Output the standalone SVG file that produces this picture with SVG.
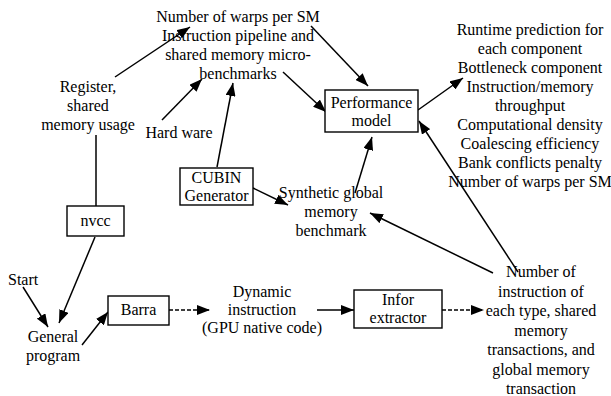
<svg xmlns="http://www.w3.org/2000/svg" width="611" height="396" viewBox="0 0 611 396" font-family="Liberation Serif, Times New Roman, serif" font-size="16">
<defs>
<style>
text{font-family:'Liberation Serif',serif;font-size:16px;fill:#000;text-anchor:middle}
.box{fill:#fff;stroke:#000;stroke-width:1.4}
.c{fill:none;stroke:#000;stroke-width:1.5;marker-end:url(#ah)}
.n{fill:none;stroke:#000;stroke-width:1.5}
.d{stroke-dasharray:4 2}
</style>
<marker id="ah" viewBox="0 0 13 10" refX="13" refY="5" markerWidth="13" markerHeight="10" orient="auto" markerUnits="userSpaceOnUse"><path d="M0,0 L13,5 L0,10 z" fill="#000"/></marker>
</defs>
<rect width="611" height="396" fill="#fff"/>
<g id="connectors">
<line class="c" x1="115" y1="77" x2="190" y2="27"/>
<line class="c" x1="162" y1="120" x2="202" y2="79"/>
<line class="c" x1="217" y1="167" x2="233" y2="83"/>
<line class="c" x1="283" y1="72" x2="326" y2="112"/>
<line class="c" x1="311" y1="26" x2="368" y2="86"/>
<line class="c" x1="418" y1="110" x2="463" y2="78"/>
<line class="c" x1="518" y1="272" x2="419" y2="121"/>
<line class="c" x1="355" y1="193" x2="372" y2="137"/>
<line class="c" x1="253" y1="188" x2="288" y2="205"/>
<line class="c" x1="493" y1="273" x2="370" y2="213"/>
<line class="n" x1="96" y1="135" x2="96" y2="206"/>
<line class="c" x1="95" y1="237" x2="59" y2="323"/>
<line class="c" x1="23" y1="287" x2="48" y2="327"/>
<line class="c" x1="82" y1="345" x2="108" y2="312"/>
<line class="c d" x1="169" y1="310" x2="210" y2="310"/>
<line class="c" x1="317" y1="310" x2="354" y2="310"/>
<line class="c d" x1="442" y1="310" x2="484" y2="310"/>
</g>
<g id="micro">
<text x="238" y="22">Number of warps per SM</text>
<text x="238" y="41">Instruction pipeline and</text>
<text x="238" y="60">shared memory micro-</text>
<text x="238" y="79">benchmarks</text>
</g>
<g id="register">
<text x="88" y="92">Register,</text>
<text x="88" y="111">shared</text>
<text x="88" y="130">memory usage</text>
</g>
<g id="hardware"><text x="179" y="138">Hard ware</text></g>
<g id="cubin">
<rect class="box" x="180" y="168" width="73" height="37"/>
<text x="216.5" y="183">CUBIN</text>
<text x="216.5" y="201">Generator</text>
</g>
<g id="nvcc">
<rect class="box" x="67" y="206" width="57" height="30"/>
<text x="95.5" y="226">nvcc</text>
</g>
<g id="perf">
<rect class="box" x="325" y="90" width="93" height="42"/>
<text x="371.5" y="108">Performance</text>
<text x="371.5" y="126">model</text>
</g>
<g id="outputs">
<text x="530" y="35">Runtime prediction for</text>
<text x="530" y="54">each component</text>
<text x="530" y="73">Bottleneck component</text>
<text x="530" y="92">Instruction/memory</text>
<text x="530" y="111">throughput</text>
<text x="530" y="130">Computational density</text>
<text x="530" y="149">Coalescing efficiency</text>
<text x="530" y="168">Bank conflicts penalty</text>
<text x="530" y="187">Number of warps per SM</text>
</g>
<g id="synthetic">
<text x="331" y="198">Synthetic global</text>
<text x="331" y="217">memory</text>
<text x="331" y="236">benchmark</text>
</g>
<g id="counts">
<text x="541" y="277">Number of</text>
<text x="541" y="297">instruction of</text>
<text x="541" y="316">each type, shared</text>
<text x="541" y="336">memory</text>
<text x="541" y="355">transactions, and</text>
<text x="541" y="375">global memory</text>
<text x="541" y="394">transaction</text>
</g>
<g id="infor">
<rect class="box" x="354" y="290" width="88" height="38"/>
<text x="398" y="305">Infor</text>
<text x="398" y="323">extractor</text>
</g>
<g id="barra">
<rect class="box" x="108" y="296" width="61" height="29"/>
<text x="138.5" y="315">Barra</text>
</g>
<g id="dynamic">
<text x="262" y="297">Dynamic</text>
<text x="262" y="315">instruction</text>
<text x="262" y="333">(GPU native code)</text>
</g>
<g id="start"><text x="8" y="285" style="text-anchor:start">Start</text></g>
<g id="general">
<text x="53" y="342">General</text>
<text x="53" y="361">program</text>
</g>
</svg>
